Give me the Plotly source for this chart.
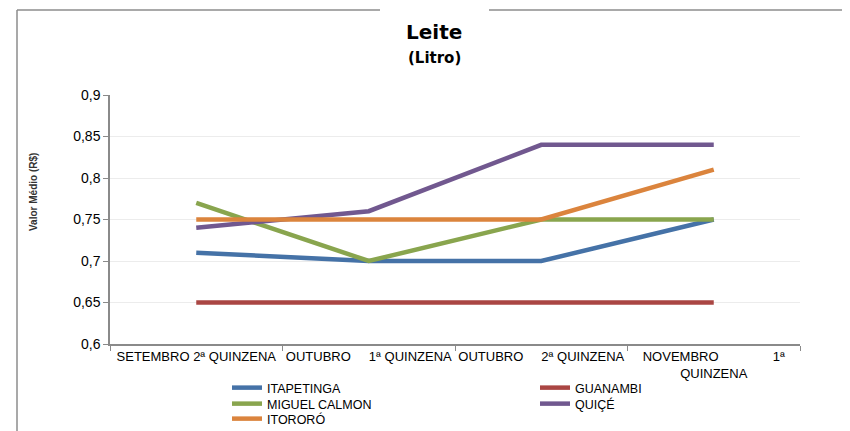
import plotly.graph_objects as go

categories = ["SETEMBRO 2ª QUINZENA", "OUTUBRO 1ª QUINZENA", "OUTUBRO 2ª QUINZENA", "NOVEMBRO 1ª QUINZENA"]
NB = "\u00a0"
tick_labels = [
    "SETEMBRO 2ª QUINZENA",
    "OUTUBRO" + NB * 5 + "1ª QUINZENA",
    "OUTUBRO" + NB * 5 + "2ª QUINZENA",
    "NOVEMBRO" + NB * 15 + "1ª<br>QUINZENA",
]

itapetinga = [0.71, 0.70, 0.70, 0.75]
guanambi = [0.65, 0.65, 0.65, 0.65]
miguel_calmon = [0.77, 0.70, 0.75, 0.75]
quice = [0.74, 0.76, 0.84, 0.84]
itororo = [0.75, 0.75, 0.75, 0.81]

series_names = ["ITAPETINGA", "GUANAMBI", "MIGUEL CALMON", "QUIÇÉ", "ITORORÓ"]
series_values = [itapetinga, guanambi, miguel_calmon, quice, itororo]
series_colors = ["#4572A7", "#AA4643", "#89A54E", "#71588F", "#DB843D"]
series_legend = ["legend", "legend", "legend2", "legend2", "legend3"]

# page offset (body margin of the html page)
OFF = 8
W, H = 850, 431
# plot area in page pixels: x 110..800, y 95..344
L = 110 - OFF
T = 95 - OFF
PW, PH = 690, 249
R = W - L - PW
B = H - T - PH


def xp(px):
    return (px - OFF - L) / PW


def yp(py):
    return (T + PH - (py - OFF)) / PH


fig = go.Figure()
for name, vals, color, lg in zip(series_names, series_values, series_colors, series_legend):
    fig.add_trace(go.Scatter(
        x=categories, y=vals, name=name, mode="lines",
        line=dict(color=color, width=4.5), legend=lg,
    ))

font_family = "Liberation Sans, Arial, sans-serif"
axis_col = "#8a8a8a"


def leg(row_y):
    return dict(
        orientation="h", x=xp(227), y=yp(row_y), xanchor="left", yanchor="middle",
        entrywidth=263, entrywidthmode="pixels",
        font=dict(size=12.5, family=font_family, color="#000"),
        bgcolor="rgba(0,0,0,0)", itemclick=False,
    )


fig.update_layout(
    width=W, height=H,
    margin=dict(l=L, r=R, t=T, b=B, autoexpand=False),
    paper_bgcolor="white", plot_bgcolor="white",
    separators=",.",
    font=dict(family=font_family, color="#000000"),
    showlegend=True,
    legend=leg(388),
    legend2=leg(404),
    legend3=leg(419),
    xaxis=dict(
        type="category", categoryorder="array", categoryarray=categories,
        tickvals=categories, ticktext=tick_labels,
        range=[-0.5, 3.5],
        tickson="boundaries", ticks="outside", ticklen=5, tickcolor=axis_col,
        showline=True, linecolor=axis_col, linewidth=1.5,
        showgrid=False, tickangle=0,
        tickfont=dict(size=13, family=font_family),
        fixedrange=True, automargin=False,
    ),
    yaxis=dict(
        range=[0.6, 0.9], dtick=0.05, tick0=0.6,
        ticks="outside", ticklen=5, tickcolor=axis_col,
        showline=True, linecolor=axis_col, linewidth=1.5,
        showgrid=True, gridcolor="#ececec", gridwidth=1,
        zeroline=False,
        tickfont=dict(size=14, family=font_family),
        fixedrange=True, automargin=False,
    ),
)

fig.add_annotation(
    text="<b>Leite</b>", xref="paper", yref="paper",
    x=xp(434), y=yp(32), xanchor="center", yanchor="middle",
    showarrow=False, font=dict(size=20, family="DejaVu Sans, sans-serif", color="#000"),
)
fig.add_annotation(
    text="<b>(Litro)</b>", xref="paper", yref="paper",
    x=xp(434), y=yp(58), xanchor="center", yanchor="middle",
    showarrow=False, font=dict(size=15, family="DejaVu Sans, sans-serif", color="#000"),
)
fig.add_annotation(
    text="<b>Valor Médio (R$)</b>", xref="paper", yref="paper",
    x=xp(33), y=yp(192), xanchor="center", yanchor="middle", textangle=-90,
    showarrow=False,
    font=dict(size=10, family=font_family, color="#333"),
)

frame = "#8c8c8c"
fig.add_shape(type="line", xref="paper", yref="paper",
              x0=xp(17), x1=xp(17), y0=yp(10), y1=yp(445),
              line=dict(color=frame, width=1.5))
fig.add_shape(type="line", xref="paper", yref="paper",
              x0=xp(17), x1=xp(380), y0=yp(10), y1=yp(10),
              line=dict(color=frame, width=1.5))
fig.add_shape(type="line", xref="paper", yref="paper",
              x0=xp(489), x1=xp(870), y0=yp(10), y1=yp(10),
              line=dict(color=frame, width=1.5))
fig.add_shape(type="line", xref="paper", yref="paper",
              x0=xp(380), x1=xp(489), y0=yp(7.5), y1=yp(7.5),
              line=dict(color="#bdbdbd", width=1.2))

fig.write_html("out.html")
